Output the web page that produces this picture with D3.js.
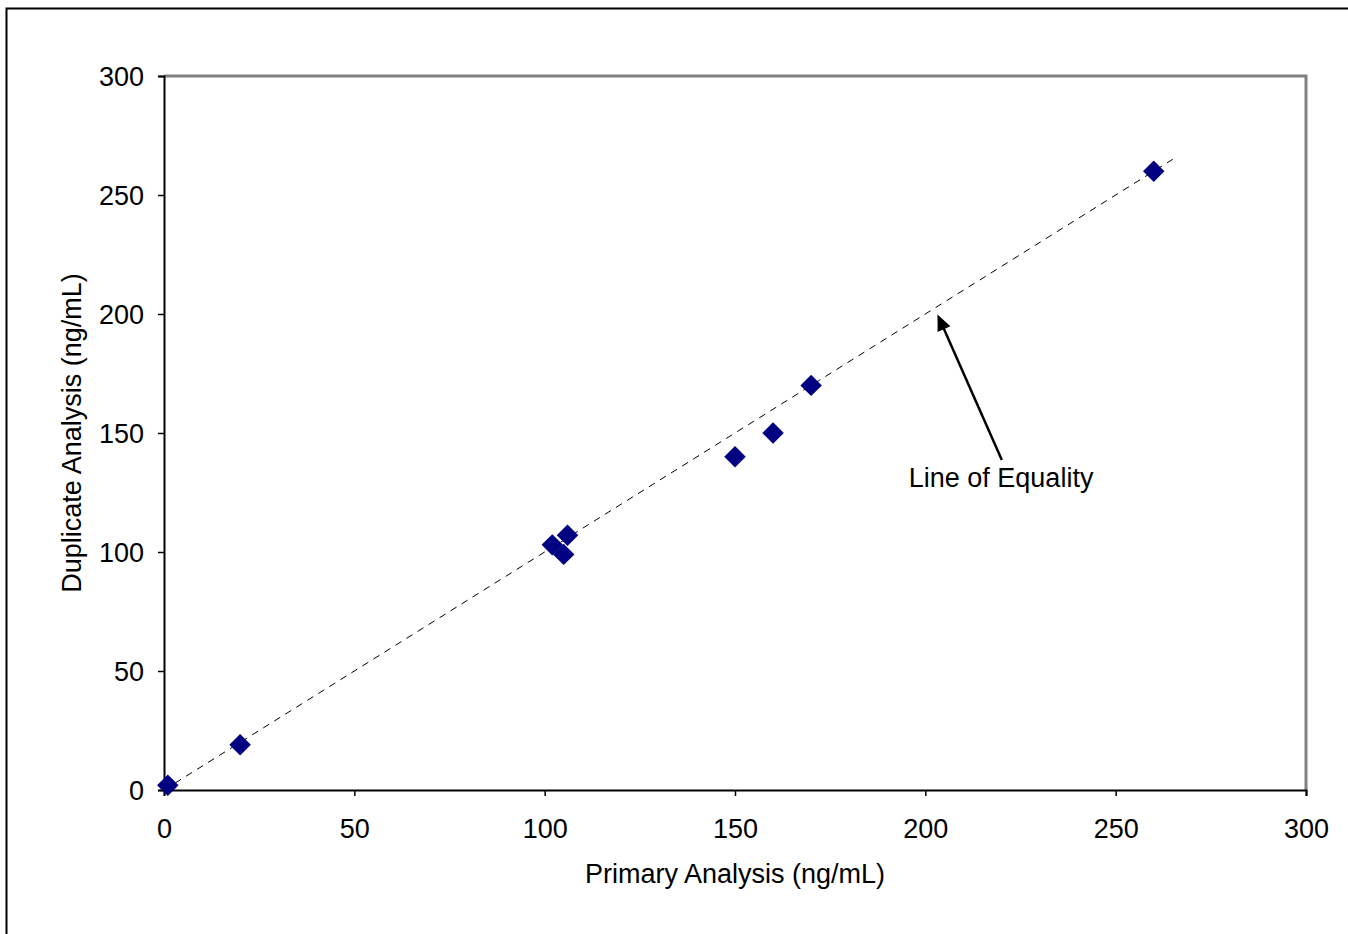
<!DOCTYPE html>
<html>
<head>
<meta charset="utf-8">
<script src="https://cdn.jsdelivr.net/npm/d3@7"></script>
<style>
body { margin: 0; background: #fff; }
text { font-family: "Liberation Sans", Arial, sans-serif; fill: #000; }
</style>
</head>
<body>
<div id="chart"></div>
<script>
// data
var primary   = [1, 20, 102, 105, 106, 150, 160, 170, 260];
var duplicate = [2, 19, 103, 99, 107, 140, 150, 170, 260];
var equalityLine = [0, 265];
var tickValues = [0, 50, 100, 150, 200, 250, 300];

var W = 1348, H = 934;
var margin = {top: 76, right: 42, bottom: 144, left: 164};
var width = W - margin.left - margin.right;
var height = H - margin.top - margin.bottom;
var fs = 27;

var svg = d3.select("#chart").append("svg")
    .attr("width", W)
    .attr("height", H);

// outer chart frame
svg.append("rect")
    .attr("x", 6.5).attr("y", 8.5)
    .attr("width", W + 10).attr("height", H + 10)
    .attr("fill", "none").attr("stroke", "#000").attr("stroke-width", 2);

var g = svg.append("g")
    .attr("transform", "translate(" + margin.left + "," + margin.top + ")");

var x = d3.scaleLinear().domain([0, 300]).range([0, width]);
var y = d3.scaleLinear().domain([0, 300]).range([height, 0]);

// plot area border (grey top/right)
g.append("path")
    .attr("d", "M0,0H" + width + "V" + height)
    .attr("fill", "none").attr("stroke", "#808080").attr("stroke-width", 3);

var xAxis = g.append("g")
    .attr("transform", "translate(0," + height + ")")
    .call(d3.axisBottom(x).tickValues(tickValues).tickSize(6).tickPadding(23));
var yAxis = g.append("g")
    .call(d3.axisLeft(y).tickValues(tickValues).tickSize(6).tickPadding(14));

[xAxis, yAxis].forEach(function(a) {
    a.select(".domain").attr("stroke", "#000").attr("stroke-width", 2);
    a.selectAll(".tick line").attr("stroke", "#000").attr("stroke-width", 1.5);
    a.selectAll(".tick text")
        .attr("font-size", fs)
        .attr("font-family", "Liberation Sans, Arial, sans-serif")
        .attr("fill", "#000");
});
yAxis.selectAll(".tick text").attr("dy", "0.35em");

// line of equality
g.append("line")
    .attr("x1", x(equalityLine[0])).attr("y1", y(equalityLine[0]))
    .attr("x2", x(equalityLine[1])).attr("y2", y(equalityLine[1]))
    .attr("stroke", "#000").attr("stroke-width", 1)
    .attr("stroke-dasharray", "7,6");

// points
var pts = primary.map(function(p, i) { return [p, duplicate[i]]; });
g.selectAll(".pt")
    .data(pts)
    .enter().append("path")
    .attr("class", "pt")
    .attr("d", d3.symbol().type(d3.symbolSquare).size(230))
    .attr("transform", function(d) {
        return "translate(" + x(d[0]) + "," + y(d[1]) + ") rotate(45)";
    })
    .attr("fill", "#000080");

// annotation arrow
var ax0 = x(220.1), ay0 = y(138.7), ax1 = x(203.2), ay1 = y(199.8);
var ang = Math.atan2(ay1 - ay0, ax1 - ax0) * 180 / Math.PI;
var headLen = 16, headW = 7;
var dl = Math.hypot(ax1 - ax0, ay1 - ay0);
g.append("line")
    .attr("x1", ax0).attr("y1", ay0)
    .attr("x2", ax1 - (ax1 - ax0) / dl * (headLen - 2))
    .attr("y2", ay1 - (ay1 - ay0) / dl * (headLen - 2))
    .attr("stroke", "#000").attr("stroke-width", 2.5);
g.append("path")
    .attr("d", "M0,0L" + (-headLen) + "," + (-headW) + "L" + (-headLen) + "," + headW + "Z")
    .attr("transform", "translate(" + ax1 + "," + ay1 + ") rotate(" + ang + ")")
    .attr("fill", "#000");

g.append("text")
    .attr("x", x(219.9)).attr("y", y(127.3))
    .attr("text-anchor", "middle")
    .attr("font-size", fs)
    .text("Line of Equality");

// axis titles
svg.append("text")
    .attr("x", margin.left + width / 2).attr("y", 883)
    .attr("text-anchor", "middle")
    .attr("font-size", fs)
    .text("Primary Analysis (ng/mL)");

svg.append("text")
    .attr("transform", "translate(81," + (margin.top + height / 2) + ") rotate(-90)")
    .attr("text-anchor", "middle")
    .attr("font-size", fs)
    .text("Duplicate Analysis (ng/mL)");
</script>
</body>
</html>
